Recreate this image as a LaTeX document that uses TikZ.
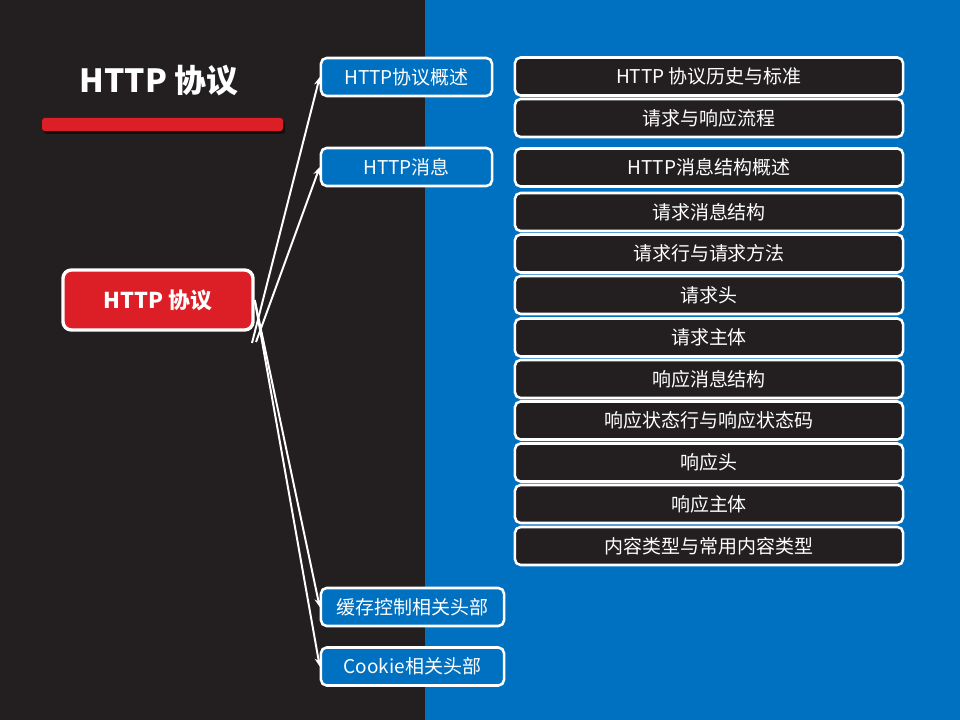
\documentclass[tikz,border=0pt]{standalone}
\usepackage{fontspec}
\setmainfont{Noto Sans CJK SC}
\usepackage{tikz}
\usetikzlibrary{arrows.meta, shadows}
\definecolor{darkbg}{HTML}{231F20}
\definecolor{bluebg}{HTML}{0070C0}
\definecolor{rootred}{HTML}{DC1F26}
\begin{document}
\begin{tikzpicture}[x=0.025cm,y=-0.025cm,
  root/.style={draw=white,line width=2.4pt,fill=rootred,rounded corners=6pt,
    minimum width=4.75cm,minimum height=1.5cm,text=white,
    font=\bfseries\fontsize{15.5}{18}\selectfont},
  topic/.style={draw=white,line width=1.8pt,fill=bluebg,rounded corners=4pt,
    minimum width=4.275cm,minimum height=0.95cm,text=white,
    font=\fontsize{13.5}{16}\selectfont},
  item/.style={draw=white,line width=1.8pt,fill=darkbg,rounded corners=4pt,
    minimum width=9.7cm,minimum height=0.95cm,text=white,
    font=\fontsize{13.5}{16}\selectfont},
  link/.style={white,line width=1.4pt,-{Stealth[length=6pt,width=5pt]}}]
% background
\fill[darkbg] (0,0) rectangle (425,720);
\fill[bluebg] (425,0) rectangle (960,720);

% title and bar
\node[text=white,font=\bfseries\fontsize{22.7}{27}\selectfont] (title) at (159,81) {HTTP 协议};
\fill[black,opacity=0.5,rounded corners=2pt] (44,121) rectangle (285,134);
\fill[rootred,rounded corners=2pt] (42,118) rectangle (283,131);

\node[root] (root) at (158,300) {HTTP 协议};

\node[topic] (t1) at (406.5,77) {HTTP协议概述};
\node[topic] (t2) at (406.5,167) {HTTP消息};
\node[topic,minimum width=4.575cm] (t3) at (412.5,607) {缓存控制相关头部};
\node[topic,minimum width=4.575cm] (t4) at (412.5,666.5) {Cookie相关头部};

\foreach \y/\x [count=\i] in {76.5/HTTP 协议历史与标准, 118/请求与响应流程,
    167.5/HTTP消息结构概述, 212/请求消息结构, 253.5/请求行与请求方法,
    295/请求头, 337.5/请求主体, 379/响应消息结构, 420.5/响应状态行与响应状态码,
    462.5/响应头, 504/响应主体, 546/内容类型与常用内容类型}
  \node[item] (i\i) at (709,\y) {\x};

% connectors
\coordinate (a1) at (252,343);
\coordinate (a2) at (256,342);
\draw[link] (a1) -- (t1.west);
\draw[link] (a2) -- (t2.west);
\draw[link] (root.east) -- (t3.west);
\draw[link] (root.east) -- (t4.west);
\end{tikzpicture}
\end{document}
